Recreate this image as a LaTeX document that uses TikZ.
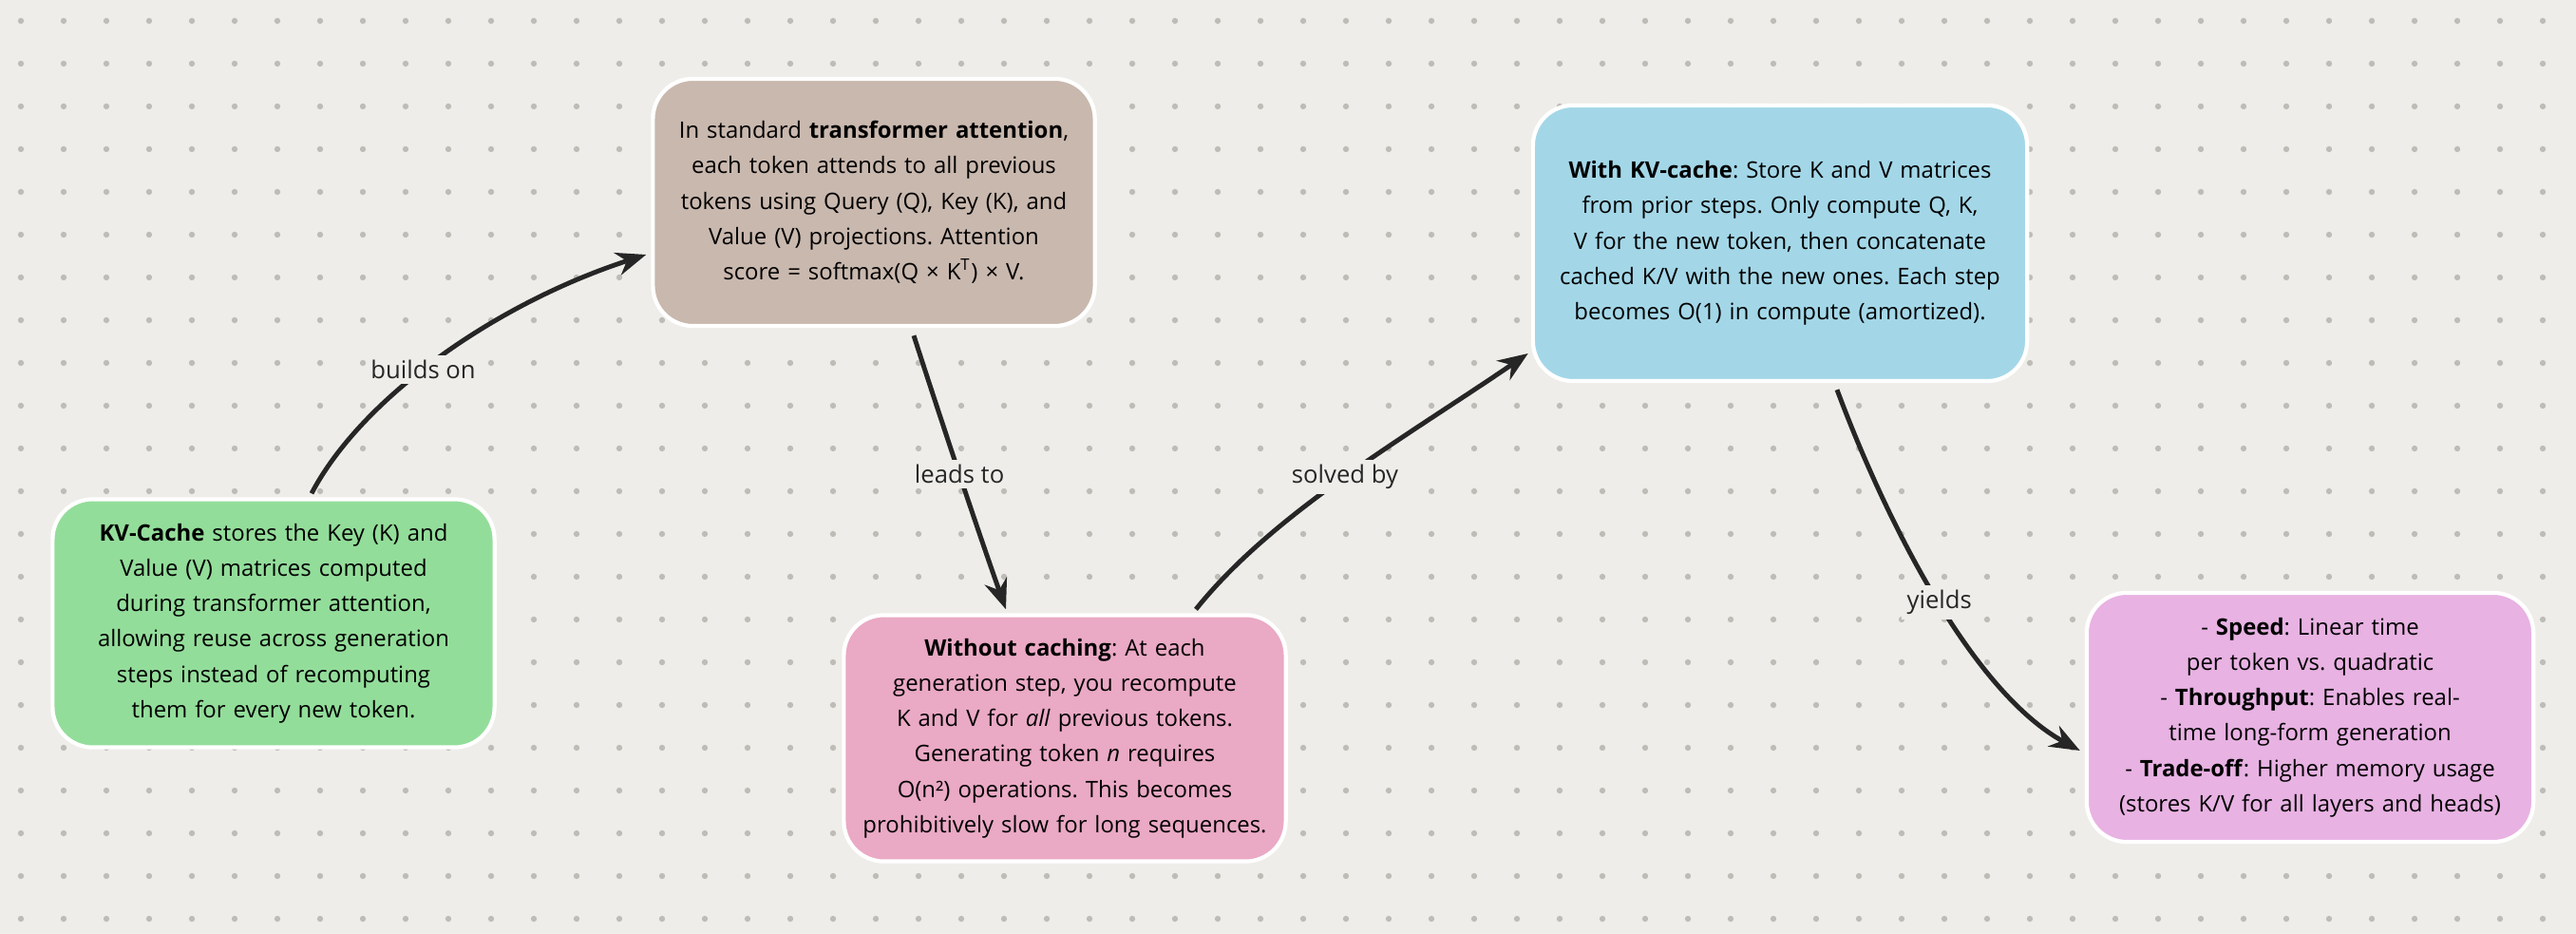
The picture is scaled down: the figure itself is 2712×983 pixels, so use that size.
\documentclass[tikz,border=0pt]{standalone}
\usepackage{fontspec}
\setmainfont{Open Sans}
\usetikzlibrary{arrows.meta, calc}
\hyphenpenalty=10000
\frenchspacing
\definecolor{bgcol}{HTML}{EEEDE9}
\definecolor{dotcol}{HTML}{BDBCB6}
\definecolor{greenbox}{HTML}{93DD9A}
\definecolor{brownbox}{HTML}{C9B8AE}
\definecolor{pinkbox}{HTML}{EAA9C4}
\definecolor{bluebox}{HTML}{A3D7E8}
\definecolor{purplebox}{HTML}{E8B2E3}
\tikzset{
  card/.style={rounded corners=12pt, draw=white, line width=1.2pt, align=center,
    font=\fontsize{6.8}{10.6}\selectfont, inner xsep=0.15cm, inner ysep=0pt},
  link/.style={-{Stealth[length=9pt,width=7pt]}, line width=1.4pt, black!85},
  tag/.style={fill=bgcol, inner sep=1.5pt, font=\fontsize{7.3}{9}\selectfont}
}
\begin{document}
\begin{tikzpicture}[x=0.01cm, y=-0.01cm]
        % Background
        \fill[bgcol] (0, 0) rectangle (2712, 983);
        \useasboundingbox (0, 0) rectangle (2712, 983);
        \foreach \x in {22, 67, ..., 2712} {
            \foreach \y in {22, 67, ..., 983} {
                \fill[dotcol] (\x, \y) circle (0.9pt);
            }
        }
        
        % Cards
        \node[card, fill=greenbox, text width=4.35cm, minimum height=2.61cm] (cache) at (288, 656)
            {\textbf{KV-Cache} stores the Key (K) and Value (V) matrices computed during transformer attention, allowing reuse across generation steps instead of recomputing them for every new token.};
        \node[card, fill=brownbox, text width=4.35cm, minimum height=2.6cm] (attn) at (920, 213)
            {In standard \textbf{transformer attention}, each token attends to all previous tokens using Query (Q), Key (K), and Value (V) projections. Attention score = softmax(Q × K\textsuperscript{T}) × V.\\[1em]};
        \node[card, fill=pinkbox, text width=4.35cm, minimum height=2.59cm] (nocache) at (1121, 777)
            {\textbf{Without caching}: At each generation step, you recompute K and V for \textit{all} previous tokens. Generating token \textit{n} requires O(n²) operations. This becomes prohibitively slow for long sequences.};
        \node[card, fill=bluebox, text width=4.9cm, minimum height=2.9cm] (withcache) at (1874, 256)
            {\textbf{With KV-cache}: Store K and V matrices from prior steps. Only compute Q, K, V for the new token, then concatenate cached K/V with the new ones. Each step becomes O(1) in compute (amortized).};
        \node[card, fill=purplebox, text width=4.4cm, minimum height=2.62cm] (gains) at (2432, 755)
            {- \textbf{Speed}: Linear time per token vs.\ quadratic\\
             - \textbf{Throughput}: Enables real-time long-form generation\\
             - \textbf{Trade-off}: Higher memory usage (stores K/V for all layers and heads)};
        
        % Links
        \draw[link] ($(cache.north)+(40,-4)$) .. controls (380, 420) and (520, 320) .. ($(attn.west)+(-5,55)$)
            node[tag, pos=0.45] {builds on};
        \draw[link] ($(attn.south)+(42,8)$) .. controls (990, 440) and (1030, 560) .. ($(nocache.north)+(-62,-4)$)
            node[tag, pos=0.5] {leads to};
        \draw[link] ($(nocache.north)+(138,-4)$) .. controls (1340, 540) and (1480, 460) .. ($(withcache.west)+(-3,116)$)
            node[tag, pos=0.5] {solved by};
        \draw[link] ($(withcache.south)+(60,7)$) .. controls (1990, 560) and (2080, 730) .. ($(gains.west)+(-5,35)$)
            node[tag, pos=0.5] {yields};
    \end{tikzpicture}
\end{document}
